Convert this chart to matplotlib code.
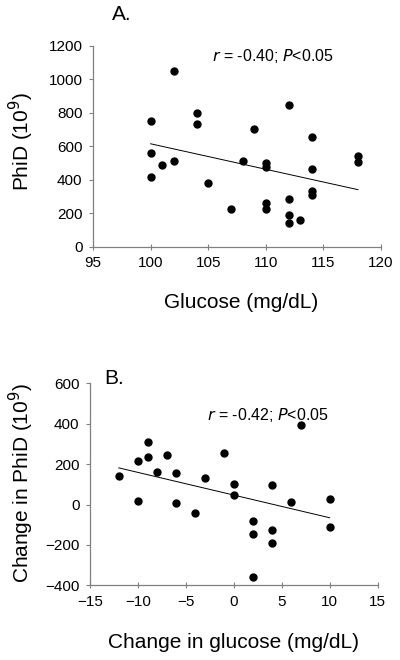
import matplotlib
matplotlib.use("Agg")
import matplotlib.pyplot as plt
import numpy as np

plt.rcParams['font.family'] = ['Liberation Sans', 'DejaVu Sans']

# Panel A data
glucose = [100, 100, 100, 101, 102, 102, 104, 104, 105, 107, 108, 109,
           110, 110, 110, 110, 112, 112, 112, 112, 113,
           114, 114, 114, 114, 118, 118]
phid = [753, 559, 416, 488, 1052, 513, 799, 733, 379, 228, 513, 702,
        500, 476, 258, 226, 848, 287, 190, 139, 157,
        654, 462, 331, 311, 539, 503]

# Panel B data
d_glucose = [-12, -10, -10, -9, -9, -8, -7, -6, -6, -4, -3, -1,
             0, 0, 2, 2, 2, 4, 4, 4, 6, 7, 10, 10]
d_phid = [141, 215, 16, 311, 237, 161, 247, 157, 8, -40, 131, 253,
          104, 48, -84, -144, -361, 96, -124, -192, 12, 396, 26, -113]

a_xticks = [95, 100, 105, 110, 115, 120]
a_yticks = [0, 200, 400, 600, 800, 1000, 1200]
b_xticks = [-15, -10, -5, 0, 5, 10, 15]
b_yticks = [-400, -200, 0, 200, 400, 600]

W, H = 400, 660
fig = plt.figure(figsize=(4, 6.6), dpi=100)
axA = fig.add_axes([0.2325, 0.6262, 0.72, 0.3045])
axB = fig.add_axes([0.225, 0.1132, 0.719, 0.306])

def style(ax):
    for s in ['top', 'right']:
        ax.spines[s].set_visible(False)
    for s in ['left', 'bottom']:
        ax.spines[s].set_color('#808080')
        ax.spines[s].set_linewidth(0.9)
    ax.tick_params(axis='y', direction='out', length=3, color='#808080',
                   labelsize=11, pad=4.5)
    ax.tick_params(axis='x', direction='inout', length=4, color='#808080',
                   labelsize=11, pad=5)

def draw(ax, x, y, xt, yt):
    x = np.array(x, float); y = np.array(y, float)
    ax.plot(x, y, 'o', color='black', ms=5, clip_on=False, zorder=3)
    m, b = np.polyfit(x, y, 1)
    xx = np.array([x.min(), x.max()])
    ax.plot(xx, m * xx + b, color='black', lw=0.7)
    ax.set_xlim(xt[0], xt[-1]); ax.set_ylim(yt[0], yt[-1])
    ax.set_xticks(xt); ax.set_yticks(yt)
    style(ax)

draw(axA, glucose, phid, a_xticks, a_yticks)
draw(axB, d_glucose, d_phid, b_xticks, b_yticks)

def ftext(px, py, s, **kw):
    fig.text(px / W, 1 - py / H, s, **kw)

ftext(241, 303, 'Glucose (mg/dL)', fontsize=15, ha='center', va='center')
ftext(21, 142, 'PhiD (10$^9$)', fontsize=15, ha='center', va='center', rotation=90)
ftext(234, 643, 'Change in glucose (mg/dL)', fontsize=15, ha='center', va='center')
ftext(21, 483, 'Change in PhiD (10$^9$)', fontsize=15, ha='center', va='center', rotation=90)

ftext(112, 15, 'A.', fontsize=15, va='center', ha='left')
ftext(104, 378, 'B.', fontsize=15, va='center', ha='left')

ftext(212, 56, r'$\it{r}$ = -0.40; $\it{P}$<0.05', fontsize=11.5, va='center', ha='left')
ftext(207, 415, r'$\it{r}$ = -0.42; $\it{P}$<0.05', fontsize=11.5, va='center', ha='left')

fig.savefig('out.png', dpi=100)
